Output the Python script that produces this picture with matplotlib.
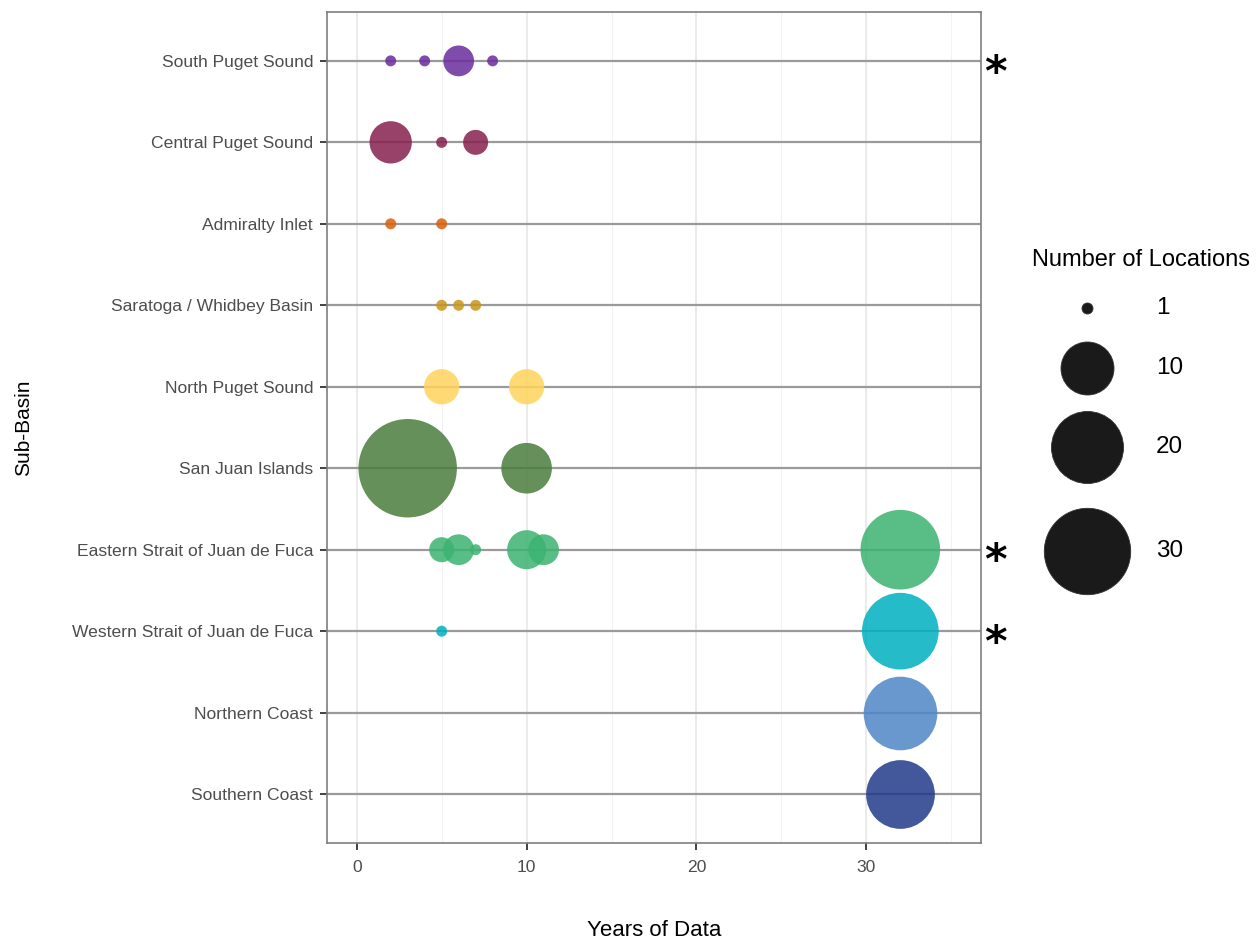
import numpy as np
import matplotlib
matplotlib.use("Agg")
import matplotlib.pyplot as plt
import matplotlib.transforms as mtransforms

plt.rcParams['font.family'] = ['Liberation Sans', 'DejaVu Sans']

# categories, top to bottom
basins = ["South Puget Sound", "Central Puget Sound", "Admiralty Inlet",
          "Saratoga / Whidbey Basin", "North Puget Sound", "San Juan Islands",
          "Eastern Strait of Juan de Fuca", "Western Strait of Juan de Fuca",
          "Northern Coast", "Southern Coast"]
colors = ["#6a2c9e", "#86204f", "#d9600c", "#c8961a", "#ffd35c",
          "#4a7d3c", "#3cb371", "#00b0c0", "#4f86c6", "#22398a"]

# years of data and number of locations per sub-basin
sp_years = [2, 4, 6, 8];            sp_n = [1, 1, 3, 1]
cp_years = [2, 5, 7];               cp_n = [6, 1, 2]
ai_years = [2, 5];                  ai_n = [1, 1]
sw_years = [5, 6, 7];               sw_n = [1, 1, 1]
np_years = [5, 10];                 np_n = [4, 4]
sj_years = [3, 10];                 sj_n = [40, 9]
es_years = [5, 6, 7, 10, 11, 32];   es_n = [2, 3, 1, 5, 3, 25]
ws_years = [5, 32];                 ws_n = [1, 23]
nc_years = [32];                    nc_n = [21]
sc_years = [32];                    sc_n = [18]

all_years = [sp_years, cp_years, ai_years, sw_years, np_years,
             sj_years, es_years, ws_years, nc_years, sc_years]
all_n = [sp_n, cp_n, ai_n, sw_n, np_n, sj_n, es_n, ws_n, nc_n, sc_n]
starred = ["South Puget Sound", "Eastern Strait of Juan de Fuca",
           "Western Strait of Juan de Fuca"]

legend_vals = [1, 10, 20, 30]

DPI = 100


def marker_area(n):
    # diameter in pixels grows with sqrt of count (area scale)
    d_px = 11 + 14 * np.sqrt(np.asarray(n, dtype=float) - 1)
    return (d_px * 72 / DPI) ** 2


fig = plt.figure(figsize=(12.6, 9.41), dpi=DPI)
ax = fig.add_axes([327 / 1260, 98 / 941, 654 / 1260, 831 / 941])

ypos = {b: len(basins) - i for i, b in enumerate(basins)}

ax.set_xlim(-1.75, 36.75)
ax.set_ylim(0.4, len(basins) + 0.6)

for x in [0, 10, 20, 30]:
    ax.axvline(x, color="#e6e6e6", lw=1.1, zorder=0)
for x in [5, 15, 25, 35]:
    ax.axvline(x, color="#f2f2f2", lw=0.8, zorder=0)
for b in basins:
    ax.axhline(ypos[b], color="#9a9a9a", lw=1.6, zorder=1)

for b, yrs, n, c in zip(basins, all_years, all_n, colors):
    ax.scatter(yrs, [ypos[b]] * len(yrs), s=marker_area(n), color=c,
               alpha=0.85, linewidths=0, zorder=3)

ax.set_yticks([ypos[b] for b in basins])
ax.set_yticklabels(basins)
ax.set_xticks([0, 10, 20, 30])
ax.tick_params(axis="both", labelsize=12.6, labelcolor="#4d4d4d",
               color="#333333", length=5, width=1.3)
ax.tick_params(axis="y", pad=5)
ax.tick_params(axis="x", pad=7)
for sp in ax.spines.values():
    sp.set_color("#7f7f7f")
    sp.set_linewidth(1.2)

ax.set_xlabel("Years of Data", fontsize=16)
ax.xaxis.set_label_coords(0.5, -0.093)
ax.set_ylabel("Sub-Basin", fontsize=15)
ax.yaxis.set_label_coords(-0.45, 0.5)

trans = mtransforms.blended_transform_factory(ax.transAxes, ax.transData)
for b in starred:
    ax.text(1.004, ypos[b] - 0.10, "*", transform=trans, fontsize=31,
            family="DejaVu Sans", ha="left", va="center_baseline",
            fontweight="bold", clip_on=False)

# size legend
lax = fig.add_axes([1000 / 1260, 0, 260 / 1260, 1])
lax.set_xlim(1000, 1260)
lax.set_ylim(941, 0)
lax.axis("off")
lax.text(1032, 260, "Number of Locations", fontsize=17, ha="left", va="center")
key_y = [308, 368, 447, 551]
for v, yy in zip(legend_vals, key_y):
    lax.scatter([1087], [yy], s=marker_area(v), color="#1a1a1a",
                edgecolors="#333333", linewidths=0.6)
    lax.text(1156, yy, str(v), fontsize=17.5, ha="left", va="center")

fig.savefig("out.png", dpi=DPI)
